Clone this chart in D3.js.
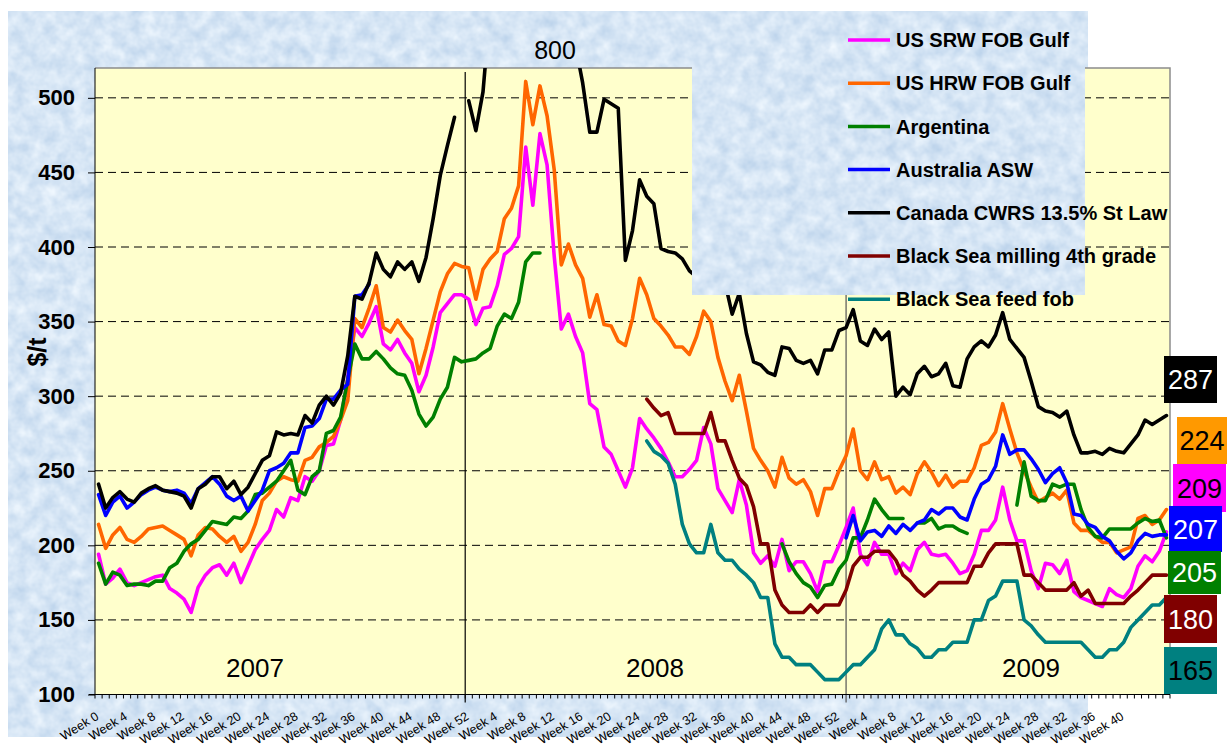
<!DOCTYPE html>
<html lang="en">
<head>
<meta charset="UTF-8">
<title>Wheat export prices 2007-2009</title>
<script src="https://d3js.org/d3.v7.min.js"></script>
<style>
  body { margin: 0; background: #fff; }
  svg { display: block; font-family: "Liberation Sans", Arial, sans-serif; }
</style>
</head>
<body>
<div id="chart"></div>
<script>
// categories: week numbers per marketing year
const yearWeeks = [[2007, 0, 52], [2008, 1, 52], [2009, 1, 46]];
const nulls = n => Array(n).fill(null);

// series values ($/t), one entry per week, null = no quote
const srw = [].concat(
  [194,174,178,184,175,173,175,177,179,180,171,168,164,155,172,180,185,187,180,188,175,186,197,204,210,224,219,232,230,246,243,250,267,268,284,312,346,340,349,360,335,331,338,329,322,303,314,333,356,362,368,368,365],
  [348,359,360,374,395,399,407,467,428,476,455,394,345,355,340,329,295,291,266,261,250,239,252,285,278,272,265,256,246,246,251,257,279,268,238,230,222,244,227,195,188,193,186,204,183,189,189,181,169,189,189,200],
  [212,225,194,187,202,194,194,181,188,183,197,202,194,193,194,188,181,183,194,210,210,217,239,217,203,203,183,171,188,187,181,190,169,165,163,161,159,171,167,165,171,186,193,189,196,209]
);
const hrw = [].concat(
  [214,198,207,212,204,202,206,211,212,213,210,207,204,193,207,212,211,206,202,206,196,202,214,230,235,243,246,244,243,257,259,266,269,273,284,297,352,346,359,374,346,343,351,344,338,315,332,351,370,382,389,387,386],
  [365,385,392,397,419,426,441,511,482,508,488,452,388,402,388,379,353,368,348,347,337,334,352,379,368,352,347,341,333,333,328,340,357,350,326,310,297,314,290,265,257,250,239,259,245,241,244,236,220,238,238,250],
  [260,278,250,244,256,244,246,235,239,234,248,256,249,240,247,239,243,243,252,267,269,276,295,278,262,250,239,229,232,235,231,237,215,210,210,206,202,202,195,197,199,218,220,214,217,224]
);
const argentina = [].concat(
  [188,174,182,180,173,174,174,173,176,176,185,188,196,201,204,210,216,215,214,219,218,223,234,235,239,243,250,257,237,234,246,250,275,277,286,311,335,325,325,330,325,319,315,314,304,288,280,286,298,306,326,323,324],
  [325,329,332,347,355,352,363,390,396,396], nulls(33), [201,189,181,175,172,165,173,174,184],
  [190,205,205,217,231,224,218,218,218,null,215,215,218,211,213,213,210,208,null,null,null,null,null,null,227,256,233,230,230,241,239,241,241,224,212,206,205,211,211,211,211,215,218,216,217,205]
);
const australia = [].concat(
  [234,220,229,233,225,229,234,237,239,237,236,237,235,228,238,242,246,241,233,230,233,223,230,237,250,252,255,262,262,279,280,285,298,298,304,308,367,368,375], nulls(14),
  nulls(52),
  [205,220,203,209,210,206,213,208,214,210,215,217,224,221,225,225,219,217,231,241,244,253,274,261,264,264,258,251,242,248,252,242,221,220,214,212,206,203,196,191,195,203,208,206,207,207]
);
const canada = [].concat(
  [241,225,232,236,231,229,235,238,240,237,236,235,233,225,238,241,246,246,238,243,234,239,248,257,260,276,274,275,274,287,282,294,300,294,302,327,367,365,376,396,385,380,390,385,390,377,393,419,448,468,487,null,498],
  [478,504,560,600,640,680,720,760,780,770,790,800,760,680,535,510,477,477,499,496,493,391,411,445,434,429,399,397,396,392,384,380,386,378,372,376,355,369,342,323,321,316,314,333,332,324,322,324,315,331,331,344],
  [346,358,337,334,345,338,343,300,306,301,315,320,313,315,322,307,306,325,333,337,333,341,356,338,332,326,310,293,290,289,286,290,274,262,262,263,261,265,263,262,268,274,284,281,284,287]
);
const bsMilling = [].concat(
  nulls(53),
  nulls(24), [298,292,287,289,275,275,275,275,275,289,270,270,257,245,240,226,201,201,170,160,155,155,155,160,155,160,160,160],
  [170,186,192,192,196,196,196,190,180,176,170,166,170,175,175,175,175,175,186,186,195,201,201,201,201,180,180,175,170,170,170,170,175,166,170,161,161,161,161,161,166,170,175,180,180,180]
);
const bsFeed = [].concat(
  nulls(53),
  nulls(24), [270,263,260,255,241,214,201,195,195,214,195,190,190,184,180,175,165,165,134,125,125,120,120,120,115,110,110,110],
  [115,120,120,125,130,144,150,140,140,134,131,125,125,130,130,135,135,135,150,150,163,166,176,176,176,150,146,140,135,135,135,135,135,135,130,125,125,130,130,135,145,150,155,160,160,165]
);

const seriesNames = ["US SRW FOB Gulf", "US HRW FOB Gulf", "Argentina", "Australia ASW",
  "Canada CWRS 13.5% St Law", "Black Sea milling 4th grade", "Black Sea feed fob"];
const seriesValues = [srw, hrw, argentina, australia, canada, bsMilling, bsFeed];
const seriesColors = ["#ff00ff", "#ff6600", "#008000", "#0000ff", "#000000", "#800000", "#008080"];

// latest prices shown in boxes on the right
const lastLabels = ["287", "224", "209", "207", "205", "180", "165"];
const lastFill = ["#000000", "#ff9900", "#ff00ff", "#0000ff", "#008000", "#800000", "#008080"];
const lastText = ["#fff", "#000", "#000", "#fff", "#fff", "#fff", "#000"];
const lastBoxes = [[1164, 356, 53, 47], [1177, 417, 50, 47], [1173, 464, 53, 48], [1169, 506, 53, 46],
  [1168, 551, 53, 43], [1164, 595, 53, 48], [1164, 647, 53, 47]];

const yTicks = [100, 150, 200, 250, 300, 350, 400, 450, 500];
const yearLabels = [["2007", 255], ["2008", 655], ["2009", 1031]];
const yearDividers = [52, 105.5]; // in category units

const cats = [];
yearWeeks.forEach(([yr, a, b]) => { for (let w = a; w <= b; w++) cats.push({ year: yr, week: w }); });

const W = 1227, H = 753;
const plot = { left: 95, top: 68, right: 1170, bottom: 694.5 };

const svg = d3.select("#chart").append("svg").attr("width", W).attr("height", H);
const defs = svg.append("defs");

// mottled blue paper texture
const f = defs.append("filter").attr("id", "paper")
  .attr("filterUnits", "userSpaceOnUse").attr("x", 0).attr("y", 0).attr("width", W).attr("height", H)
  .attr("color-interpolation-filters", "sRGB");
f.append("feTurbulence").attr("type", "fractalNoise").attr("baseFrequency", 0.07)
  .attr("numOctaves", 3).attr("seed", 7);
f.append("feColorMatrix").attr("type", "matrix")
  .attr("values", "0.24 0 0 0 0.72  0.17 0 0 0 0.815  0.09 0 0 0 0.915  0 0 0 0 1");
f.append("feComposite").attr("in2", "SourceGraphic").attr("operator", "in");

defs.append("clipPath").attr("id", "plotClip").append("rect")
  .attr("x", plot.left).attr("y", plot.top)
  .attr("width", plot.right - plot.left).attr("height", plot.bottom - plot.top);

svg.append("rect").attr("x", 8).attr("y", 11).attr("width", 1080).attr("height", 726)
  .attr("fill", "#d9e6f5").attr("filter", "url(#paper)");

const x = d3.scaleBand().domain(d3.range(cats.length)).range([plot.left, plot.right]).padding(0);
const y = d3.scaleLinear().domain([100, 520]).range([plot.bottom, plot.top]);
const cx = i => x(i) + x.bandwidth() / 2;

// plot area
svg.append("rect").attr("x", plot.left).attr("y", plot.top)
  .attr("width", plot.right - plot.left).attr("height", plot.bottom - plot.top)
  .attr("fill", "#ffffcc");
svg.append("path")
  .attr("d", `M${plot.left},${plot.top}H${plot.right}V${plot.bottom}`)
  .attr("fill", "none").attr("stroke", "#8c8c8c").attr("stroke-width", 1.5);

// gridlines
svg.append("g").selectAll("line").data(yTicks.filter(v => v > 100)).join("line")
  .attr("x1", plot.left).attr("x2", plot.right)
  .attr("y1", d => y(d)).attr("y2", d => y(d))
  .attr("stroke", "#000").attr("stroke-width", 1).attr("stroke-dasharray", "8,5");

// year dividers
svg.append("g").selectAll("line").data(yearDividers).join("line")
  .attr("x1", d => plot.left + d * x.step()).attr("x2", d => plot.left + d * x.step())
  .attr("y1", plot.top + 4).attr("y2", plot.bottom + 8)
  .attr("stroke", (d, i) => i ? "#555" : "#000").attr("stroke-width", 1.2);

// series
const line = d3.line().defined(d => d[1] != null).x(d => cx(d[0])).y(d => y(d[1]));
svg.append("g").attr("clip-path", "url(#plotClip)").selectAll("path")
  .data(seriesValues).join("path")
  .attr("d", vals => line(vals.map((v, i) => [i, v])))
  .attr("fill", "none").attr("stroke", (d, i) => seriesColors[i])
  .attr("stroke-width", 3.6).attr("stroke-linejoin", "round").attr("stroke-linecap", "round");

// y axis
const yAxis = svg.append("g").attr("transform", `translate(${plot.left},0)`)
  .call(d3.axisLeft(y).tickValues(yTicks).tickSize(7).tickPadding(13).tickSizeOuter(0));
yAxis.select(".domain").attr("stroke", "#000").attr("d", `M0,${plot.top}V${plot.bottom}`);
yAxis.selectAll("text").attr("font-size", 22).attr("font-weight", "bold")
  .attr("font-family", '"Liberation Sans", Arial, sans-serif').attr("fill", "#000");

// x axis: tick at every category boundary, labels every 4th week
const xg = svg.append("g");
xg.append("line").attr("x1", plot.left - 6).attr("x2", plot.right)
  .attr("y1", plot.bottom).attr("y2", plot.bottom).attr("stroke", "#000");
xg.selectAll("line.tk").data(d3.range(cats.length + 1)).join("line").attr("class", "tk")
  .attr("x1", i => plot.left + i * x.step()).attr("x2", i => plot.left + i * x.step())
  .attr("y1", plot.bottom).attr("y2", plot.bottom + 4).attr("stroke", "#000");
xg.selectAll("text").data(d3.range(0, 145, 4)).join("text")
  .attr("transform", i => `translate(${cx(i) + 1},${plot.bottom + 24}) rotate(-32)`)
  .attr("text-anchor", "end").attr("font-size", 12.5).attr("fill", "#000")
  .text(i => "Week " + cats[i].week);

svg.append("text").attr("transform", "translate(46,352) rotate(-90)")
  .attr("text-anchor", "middle").attr("font-size", 25).attr("font-weight", "bold").text("$/t");

// year labels
svg.append("g").selectAll("text").data(yearLabels).join("text")
  .attr("x", d => d[1]).attr("y", 677).attr("text-anchor", "middle")
  .attr("font-size", 26).attr("fill", "#000").text(d => d[0]);

// peak annotation for Canada
svg.append("text").attr("x", 555).attr("y", 59).attr("text-anchor", "middle")
  .attr("font-size", 25).text(d3.max(canada));

// legend
svg.append("rect").attr("x", 692).attr("y", 11).attr("width", 393).attr("height", 284)
  .attr("fill", "#d9e6f5").attr("filter", "url(#paper)");
const lg = svg.append("g").selectAll("g").data(seriesNames).join("g")
  .attr("transform", (d, i) => `translate(848,${40 + i * 43.2})`);
lg.append("line").attr("x1", 0).attr("x2", 42)
  .attr("stroke", (d, i) => seriesColors[i]).attr("stroke-width", 3.5);
lg.append("text").attr("x", 48).attr("dy", "0.36em").attr("font-size", 20)
  .attr("font-weight", "bold").attr("fill", "#000").text(d => d);

// latest value boxes
const lb = svg.append("g").selectAll("g").data(lastLabels).join("g");
lb.append("rect").attr("x", (d, i) => lastBoxes[i][0]).attr("y", (d, i) => lastBoxes[i][1])
  .attr("width", (d, i) => lastBoxes[i][2]).attr("height", (d, i) => lastBoxes[i][3])
  .attr("fill", (d, i) => lastFill[i]);
lb.append("text")
  .attr("x", (d, i) => lastBoxes[i][0] + lastBoxes[i][2] / 2)
  .attr("y", (d, i) => lastBoxes[i][1] + lastBoxes[i][3] / 2)
  .attr("dy", "0.36em").attr("text-anchor", "middle").attr("font-size", 27)
  .attr("fill", (d, i) => lastText[i]).text(d => d);
</script>
</body>
</html>
